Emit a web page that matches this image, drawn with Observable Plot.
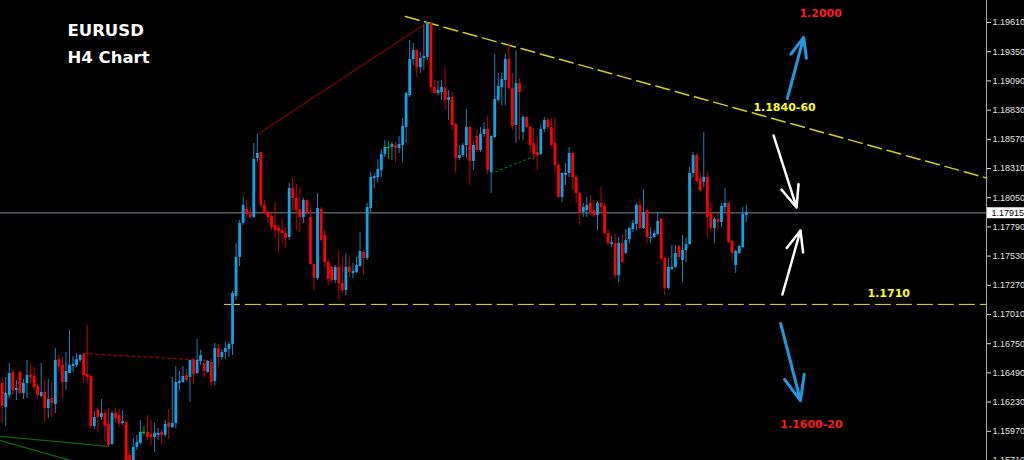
<!DOCTYPE html>
<html>
<head>
<meta charset="utf-8">
<script src="https://cdn.jsdelivr.net/npm/d3@7"></script>
<script src="https://cdn.jsdelivr.net/npm/@observablehq/plot@0.6"></script>
<style>
  html, body { margin: 0; padding: 0; background: #000; overflow: hidden; }
  svg { overflow: hidden; display: block; }
</style>
</head>
<body>
<div id="chart"></div>
<script>
// ---- EURUSD H4 candles ----
const open = [1.16396,1.16182,1.16289,1.16494,1.16333,1.16494,1.16307,1.16396,1.16467,1.16458,
1.16369,1.16280,1.16316,1.16173,1.16262,1.16209,1.16609,1.16556,1.16405,1.16485,
1.16547,1.16556,1.16601,1.16654,1.16476,1.16458,1.16013,1.16155,1.16093,1.16129,
1.16031,1.15853,1.16129,1.16111,1.16040,1.16049,1.15755,1.15621,1.15826,1.15862,
1.15960,1.15960,1.15942,1.15915,1.15933,1.15960,1.15933,1.16040,1.16004,1.16040,
1.16396,1.16405,1.16467,1.16449,1.16601,1.16485,1.16592,1.16574,1.16494,1.16583,
1.16414,1.16707,1.16627,1.16672,1.16699,1.16743,1.17171,1.17518,1.17820,1.17945,
1.17901,1.17874,1.18399,1.18453,1.17981,1.17918,1.17883,1.17803,1.17776,1.17758,
1.17731,1.17696,1.18132,1.18043,1.17945,1.17874,1.18025,1.17874,1.17455,1.17331,
1.17945,1.17714,1.17473,1.17429,1.17313,1.17429,1.17286,1.17224,1.17429,1.17375,
1.17384,1.17438,1.17562,1.17509,1.17954,1.18221,1.18230,1.18293,1.18435,1.18497,
1.18497,1.18515,1.18488,1.18515,1.18675,1.18960,1.19281,1.19361,1.19209,1.19290,
1.19299,1.19601,1.19031,1.18978,1.18987,1.19022,1.18916,1.18942,1.18702,1.18399,
1.18426,1.18515,1.18675,1.18373,1.18595,1.18470,1.18613,1.18657,1.18275,1.18586,
1.18916,1.19031,1.19094,1.19281,1.19022,1.18693,1.19067,1.18631,1.18764,1.18675,
1.18533,1.18453,1.18435,1.18657,1.18738,1.18675,1.18533,1.18337,1.18052,1.18248,
1.18266,1.18444,1.18230,1.18088,1.17918,1.17936,1.17999,1.17936,1.17892,1.17999,
1.17972,1.17731,1.17633,1.17642,1.17357,1.17642,1.17553,1.17678,1.17767,1.17812,
1.17981,1.17776,1.17936,1.17687,1.17696,1.17723,1.17856,1.17509,1.17242,1.17411,
1.17429,1.17616,1.17491,1.17580,1.17633,1.18266,1.18426,1.18221,1.18186,1.18230,
1.17909,1.17776,1.17856,1.17829,1.17963,1.17999,1.17660,1.17446,1.17553,1.17607,
1.17892];
const high = [1.16449,1.16449,1.16574,1.16520,1.16423,1.16503,1.16431,1.16601,1.16565,1.16538,
1.16396,1.16574,1.16431,1.16431,1.16405,1.16707,1.16645,1.16627,1.16672,1.16868,
1.16636,1.16663,1.16654,1.16663,1.16912,1.16467,1.16147,1.16182,1.16253,1.16155,
1.16173,1.16147,1.16173,1.16164,1.16155,1.16066,1.15799,1.15906,1.15933,1.16066,
1.16013,1.16111,1.16066,1.16040,1.15995,1.15986,1.16066,1.16164,1.16449,1.16547,
1.16503,1.16547,1.16520,1.16601,1.16618,1.16788,1.16690,1.16609,1.16601,1.16618,
1.16752,1.16743,1.16699,1.16761,1.16761,1.17215,1.17642,1.17847,1.18052,1.18025,
1.17963,1.18533,1.18613,1.18453,1.18025,1.17936,1.17901,1.18007,1.17803,1.17856,
1.17785,1.18177,1.18221,1.18168,1.18132,1.18043,1.18034,1.17963,1.17464,1.18088,
1.17963,1.17758,1.17509,1.17438,1.17446,1.17580,1.17518,1.17553,1.17518,1.17464,
1.17518,1.17740,1.17580,1.17999,1.18275,1.18266,1.18390,1.18479,1.18559,1.18551,
1.18542,1.18542,1.18595,1.18755,1.18987,1.19450,1.19423,1.19370,1.19343,1.19583,
1.19610,1.19610,1.19094,1.19085,1.19094,1.19209,1.19005,1.18987,1.18711,1.18515,
1.18533,1.18835,1.18684,1.18533,1.18649,1.18675,1.18720,1.18773,1.18604,1.19325,
1.19156,1.19156,1.19325,1.19423,1.19156,1.19361,1.19112,1.18782,1.18773,1.18693,
1.18666,1.18604,1.18693,1.18764,1.18755,1.18755,1.18755,1.18355,1.18275,1.18355,
1.18497,1.18453,1.18248,1.18097,1.17999,1.18052,1.18070,1.18025,1.18016,1.18141,
1.17999,1.17767,1.17705,1.17723,1.17696,1.17723,1.17767,1.17785,1.17847,1.17999,
1.18034,1.18123,1.17945,1.17785,1.17758,1.17918,1.17865,1.17518,1.17509,1.17625,
1.17625,1.17625,1.17714,1.17687,1.18319,1.18453,1.18444,1.18275,1.18631,1.18275,
1.18007,1.17874,1.17909,1.17999,1.18132,1.18007,1.17669,1.17580,1.17625,1.17963,
1.17981];
const low = [1.16040,1.16013,1.16262,1.16289,1.16244,1.16289,1.16253,1.16262,1.16396,1.16333,
1.16253,1.16271,1.16049,1.16084,1.16093,1.16129,1.16494,1.16262,1.16333,1.16485,
1.16494,1.16538,1.16583,1.16396,1.16396,1.15995,1.15986,1.15960,1.16066,1.15879,
1.15835,1.15844,1.16040,1.16004,1.16022,1.15639,1.15532,1.15550,1.15799,1.15844,
1.15933,1.15888,1.15844,1.15781,1.15888,1.15853,1.15915,1.15897,1.15995,1.15995,
1.16333,1.16396,1.16405,1.16227,1.16387,1.16476,1.16556,1.16440,1.16485,1.16369,
1.16378,1.16547,1.16601,1.16609,1.16627,1.16645,1.17135,1.17438,1.17803,1.17874,
1.17865,1.17865,1.18364,1.17963,1.17901,1.17820,1.17758,1.17687,1.17562,1.17642,
1.17598,1.17669,1.17936,1.17758,1.17740,1.17820,1.17892,1.17446,1.17224,1.17313,
1.17660,1.17429,1.17268,1.17286,1.17286,1.17135,1.17197,1.17179,1.17340,1.17331,
1.17375,1.17429,1.17357,1.17491,1.17918,1.18132,1.18186,1.18230,1.18408,1.18390,
1.18381,1.18364,1.18444,1.18364,1.18533,1.18942,1.19227,1.19121,1.19156,1.19183,
1.19272,1.18978,1.18978,1.18960,1.18916,1.18827,1.18738,1.18649,1.18266,1.18381,
1.18408,1.18399,1.18159,1.18293,1.18453,1.18453,1.18586,1.18257,1.18088,1.18577,
1.18898,1.18871,1.18871,1.19005,1.18649,1.18533,1.18559,1.18559,1.18666,1.18444,
1.18381,1.18293,1.18426,1.18631,1.18649,1.18506,1.18266,1.18043,1.18007,1.18159,
1.18230,1.18114,1.17999,1.17803,1.17874,1.17874,1.17892,1.17874,1.17758,1.17918,
1.17723,1.17625,1.17607,1.17331,1.17295,1.17464,1.17544,1.17642,1.17740,1.17758,
1.17767,1.17767,1.17642,1.17642,1.17687,1.17714,1.17491,1.17179,1.17224,1.17402,
1.17420,1.17491,1.17295,1.17473,1.17625,1.18230,1.18186,1.18097,1.18141,1.17696,
1.17740,1.17642,1.17758,1.17785,1.17918,1.17642,1.17491,1.17375,1.17544,1.17598,
1.17829];
const close = [1.16191,1.16307,1.16485,1.16333,1.16351,1.16307,1.16396,1.16467,1.16449,1.16360,
1.16289,1.16316,1.16173,1.16253,1.16218,1.16601,1.16547,1.16405,1.16503,1.16556,
1.16565,1.16609,1.16645,1.16467,1.16449,1.16013,1.16093,1.16093,1.16129,1.16013,
1.15844,1.16129,1.16084,1.16040,1.16057,1.15692,1.15577,1.15826,1.15870,1.15960,
1.15960,1.15915,1.15915,1.15951,1.15951,1.15933,1.16031,1.16004,1.16040,1.16405,
1.16414,1.16458,1.16423,1.16601,1.16476,1.16601,1.16645,1.16503,1.16592,1.16405,
1.16707,1.16627,1.16672,1.16707,1.16743,1.17197,1.17518,1.17820,1.17981,1.17901,
1.17874,1.18390,1.18444,1.17981,1.17909,1.17874,1.17785,1.17758,1.17749,1.17731,
1.17687,1.18132,1.18043,1.17936,1.17874,1.18025,1.17901,1.17455,1.17331,1.17954,
1.17669,1.17473,1.17322,1.17313,1.17429,1.17286,1.17224,1.17429,1.17384,1.17393,
1.17446,1.17571,1.17509,1.17963,1.18230,1.18239,1.18301,1.18435,1.18497,1.18497,
1.18524,1.18488,1.18524,1.18684,1.18978,1.19281,1.19361,1.19209,1.19290,1.19307,
1.19601,1.19031,1.18978,1.19005,1.19031,1.18916,1.18942,1.18693,1.18399,1.18426,
1.18515,1.18675,1.18373,1.18515,1.18470,1.18613,1.18657,1.18293,1.18595,1.18925,
1.19040,1.19103,1.19281,1.19022,1.18684,1.19067,1.18987,1.18764,1.18675,1.18515,
1.18435,1.18426,1.18657,1.18738,1.18675,1.18515,1.18337,1.18052,1.18266,1.18266,
1.18444,1.18230,1.18088,1.17918,1.17963,1.17981,1.17918,1.17892,1.17999,1.17963,
1.17731,1.17642,1.17651,1.17357,1.17642,1.17473,1.17669,1.17776,1.17820,1.17981,
1.17776,1.17918,1.17696,1.17696,1.17731,1.17838,1.17500,1.17242,1.17429,1.17429,
1.17553,1.17518,1.17580,1.17633,1.18266,1.18426,1.18194,1.18114,1.18230,1.17874,
1.17776,1.17856,1.17829,1.17972,1.17999,1.17651,1.17553,1.17571,1.17616,1.17901,
1.17915];

// ---- axis ticks ----
const yTicks = [1.19610,1.19350,1.19090,1.18830,1.18570,1.18310,1.18050,1.17790,
  1.17530,1.17270,1.17010,1.16750,1.16490,1.16230,1.15970,1.15710];
const lastPrice = 1.17915;

// ---- drawn levels / trend lines (bar index, price) ----
const resistanceLine = [[113.8, 1.19664], [277.8, 1.18226]];
const supportLevel = 1.1710;
const supportStart = 62.7;
const redSwingLine = [[72, 1.18613], [120, 1.19610]];
const redDottedLine = [[23, 1.16663], [58, 1.16601]];
const greenDottedLine = [[138, 1.18266], [152, 1.18441]];
const greenLineA = [[-0.48, 1.15924], [30, 1.15835]];
const greenLineB = [[-0.48, 1.15888], [26, 1.15650]];

// ---- annotations ----
const noteText  = ["1.2000", "1.1840-60", "1.1710", "1.1600-20"];
const noteBar   = [231.0, 220.8, 250.2, 228.4];
const notePrice = [1.19690, 1.18853, 1.17197, 1.16031];
const noteKind  = ["target", "level", "level", "target"];

const arrowKind = ["blue", "blue", "white", "white"];
const arrowBar1 = [221.6, 219.7, 217.7, 220.2];
const arrowP1   = [1.18934, 1.16930, 1.18604, 1.17188];
const arrowBar2 = [226.2, 225.3, 224.2, 225.3];
const arrowP2   = [1.19477, 1.16244, 1.17963, 1.17758];

const titleLines = ["EURUSD", "H4 Chart"];

// ---- build ----
const candles = open.map((o, i) => ({i, o, h: high[i], l: low[i], c: close[i]}));
const up = candles.filter(d => d.c > d.o);
const down = candles.filter(d => d.c < d.o);
const flat = candles.filter(d => d.c === d.o);
const notes = noteText.map((t, k) => ({t, x: noteBar[k], y: notePrice[k], kind: noteKind[k]}));
const arrows = arrowKind.map((k, j) => ({k, x1: arrowBar1[j], y1: arrowP1[j], x2: arrowBar2[j], y2: arrowP2[j]}));
const seg = (pts) => pts.map(([x, y]) => ({x, y}));

const xDomain = [-0.48, 277.8];
const plotW = 1024, mRight = 38;
const pxPerBar = (plotW - mRight) / (xDomain[1] - xDomain[0]);
const boxBars = mRight / pxPerBar;

const boldFont = "DejaVu Sans, Verdana, sans-serif";

const chart = Plot.plot({
  width: plotW,
  height: 460,
  marginLeft: 0,
  marginRight: mRight,
  marginTop: 0,
  marginBottom: 0,
  x: {domain: xDomain, axis: null},
  y: {domain: [1.15710, 1.19806], axis: "right", ticks: yTicks,
      tickFormat: d3.format(".5f"), tickSize: 4, tickPadding: 2, label: null},
  style: {background: "#000", color: "#e0e0e0", fontFamily: "Liberation Sans, Arial, sans-serif", fontSize: "9px"},
  marks: [
    // bottom-left green channel lines
    Plot.line(seg(greenLineA), {x: "x", y: "y", stroke: "#0b6a0b", strokeWidth: 1.3, clip: true}),
    Plot.line(seg(greenLineB), {x: "x", y: "y", stroke: "#0b6a0b", strokeWidth: 1.3, clip: true}),
    // current price line
    Plot.ruleY([lastPrice], {stroke: "#7d8b99", strokeWidth: 1}),
    // support dashed
    Plot.ruleY([supportLevel], {x1: supportStart, x2: xDomain[1], stroke: "#e6e600", strokeWidth: 1, strokeDasharray: "16,5"}),
    // resistance trend
    Plot.line(seg(resistanceLine), {x: "x", y: "y", stroke: "#d2d200", strokeWidth: 1.5, strokeDasharray: "14,6"}),
    // swing lines
    Plot.line(seg(redSwingLine), {x: "x", y: "y", stroke: "#b00000", strokeWidth: 1}),
    Plot.line(seg(redDottedLine), {x: "x", y: "y", stroke: "#c00000", strokeWidth: 1, strokeDasharray: "3,3"}),
    Plot.line(seg(greenDottedLine), {x: "x", y: "y", stroke: "#0a8a0a", strokeWidth: 1, strokeDasharray: "2,3"}),
    // wicks
    Plot.ruleX(up, {x: "i", y1: "l", y2: "h", stroke: "#1b82bd", strokeWidth: 1, clip: true}),
    Plot.ruleX(down, {x: "i", y1: "l", y2: "h", stroke: "#c80000", strokeWidth: 1, clip: true}),
    Plot.ruleX(flat, {x: "i", y1: "l", y2: "h", stroke: "#00b000", strokeWidth: 1, clip: true}),
    // bodies
    Plot.ruleX(up, {x: "i", y1: "o", y2: "c", stroke: "#0aa6ea", strokeWidth: 2.8, clip: true}),
    Plot.ruleX(down, {x: "i", y1: "o", y2: "c", stroke: "#ff0000", strokeWidth: 2.8, clip: true}),
    Plot.ruleY(flat, {x1: d => d.i - 0.45, x2: d => d.i + 0.45, y: "o", stroke: "#00c000", strokeWidth: 1.5}),
    // axis line
    Plot.ruleX([xDomain[1]], {stroke: "#a8a8a8", strokeWidth: 1}),
    // current price box
    Plot.ruleY([lastPrice], {x1: xDomain[1] + 0.3, x2: xDomain[1] + boxBars, stroke: "#ffffff", strokeWidth: 11}),
    Plot.text([lastPrice], {x: xDomain[1], y: d => d, dx: 5, text: d => d.toFixed(5), textAnchor: "start", fill: "#000", fontSize: 9}),
    // arrows
    Plot.arrow(arrows.filter(d => d.k === "blue"), {x1: "x1", y1: "y1", x2: "x2", y2: "y2", stroke: "#1e9ae0", strokeWidth: 3, headLength: 14, headAngle: 45}),
    Plot.arrow(arrows.filter(d => d.k === "white"), {x1: "x1", y1: "y1", x2: "x2", y2: "y2", stroke: "#ffffff", strokeWidth: 2.5, headLength: 14, headAngle: 45}),
    // annotations
    Plot.text(notes.filter(d => d.kind === "target"), {x: "x", y: "y", text: "t", fill: "#ff1a1a", fontSize: 11, fontWeight: "bold", fontFamily: boldFont}),
    Plot.text(notes.filter(d => d.kind === "level"), {x: "x", y: "y", text: "t", fill: "#ffff00", fontSize: 11, fontWeight: "bold", fontFamily: boldFont}),
    // title
    Plot.text([titleLines[0]], {frameAnchor: "top-left", dx: 67, dy: 30, text: d => d, textAnchor: "start", lineAnchor: "middle", fill: "#ffffff", fontSize: 16.5, fontWeight: "bold", fontFamily: boldFont}),
    Plot.text([titleLines[1]], {frameAnchor: "top-left", dx: 67, dy: 57, text: d => d, textAnchor: "start", lineAnchor: "middle", fill: "#ffffff", fontSize: 16.5, fontWeight: "bold", fontFamily: boldFont})
  ]
});
document.getElementById("chart").append(chart);
</script>
</body>
</html>
